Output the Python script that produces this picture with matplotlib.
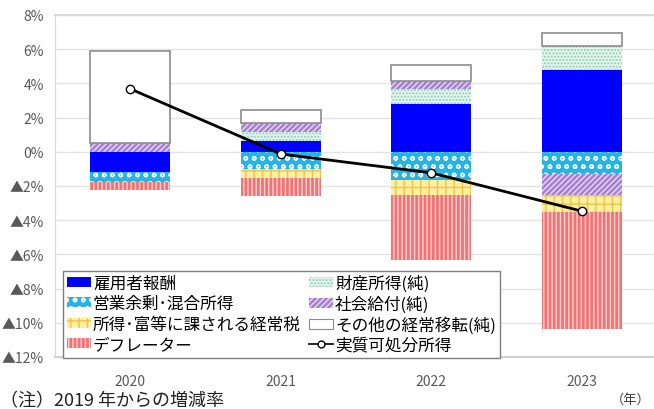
import numpy as np
import matplotlib
matplotlib.use("Agg")
import matplotlib.pyplot as plt
from matplotlib.patches import Patch
from matplotlib.lines import Line2D

plt.rcParams['font.family'] = ['Noto Sans CJK JP', 'DejaVu Sans']
plt.rcParams['hatch.linewidth'] = 1.0

# データ（2019年からの増減率、%）
years = ['2020', '2021', '2022', '2023']
koyosha = [-1.19, 0.64, 2.77, 4.78]        # 雇用者報酬
eigyo = [-0.57, -1.02, -1.62, -1.27]       # 営業余剰・混合所得
zaisan = [0.0, 0.50, 0.91, 1.40]           # 財産所得（純）
shakai = [0.51, 0.53, 0.45, -1.23]         # 社会給付（純）
zei = [0.0, -0.54, -0.88, -1.01]           # 所得・富等に課される経常税
deflator = [-0.47, -1.04, -3.83, -6.84]    # デフレーター
sonota = [5.40, 0.80, 0.97, 0.74]          # その他の経常移転（純）
jisshitsu = [3.68, -0.13, -1.23, -3.47]    # 実質可処分所得

yticks = [8, 6, 4, 2, 0, -2, -4, -6, -8, -10, -12]

# 積み上げ順（ゼロに近い方から）
series = [
    ('雇用者報酬', koyosha, dict(facecolor='#0000FF', hatch=None, hc='#0000FF')),
    ('営業余剰･混合所得', eigyo, dict(facecolor='#22B5E6', hatch='oo', hc='white')),
    ('財産所得(純)', zaisan, dict(facecolor='#E6F4EE', hatch='.....', hc='#8CCFB4')),
    ('社会給付(純)', shakai, dict(facecolor='#A57ED8', hatch='//////', hc='#E8DDF7')),
    ('所得･富等に課される経常税', zei, dict(facecolor='#FFF0A0', hatch='++', hc='#EFC34A')),
    ('デフレーター', deflator, dict(facecolor='#F07474', hatch='||||', hc='#FBD0D0')),
    ('その他の経常移転(純)', sonota, dict(facecolor='white', hatch=None, hc='white')),
]

fig = plt.figure(figsize=(6.54, 4.10), dpi=100)
ax = fig.add_axes([55 / 654, 52 / 410, 602 / 654, 342 / 410])

x = np.arange(len(years))
width = 0.53
pos_base = np.zeros(len(years))
neg_base = np.zeros(len(years))
handles = {}
for name, vals, st in series:
    vals = np.array(vals)
    base = np.where(vals >= 0, pos_base, neg_base)
    ax.bar(x, vals, width, bottom=base, color=st['facecolor'],
           hatch=st['hatch'], edgecolor=st['hc'], linewidth=0, zorder=2)
    if name.startswith('その他'):
        ax.bar(x, vals, width, bottom=base, facecolor='none',
               edgecolor='#8c8c8c', linewidth=1.2, zorder=3)
    pos_base = pos_base + np.where(vals >= 0, vals, 0)
    neg_base = neg_base + np.where(vals < 0, vals, 0)
    edge = '#8c8c8c' if name.startswith('その他') else st['hc']
    handles[name] = Patch(facecolor=st['facecolor'], hatch=st['hatch'],
                          edgecolor=edge, linewidth=0.8 if name.startswith('その他') else 0)

ax.plot(x, jisshitsu, color='black', lw=2, marker='o', ms=6,
        mfc='white', mec='black', mew=1, zorder=5)

ax.set_xlim(-0.5, 3.5)
ax.set_ylim(-12, 8)
ax.set_yticks(yticks)
ax.set_yticklabels([f'{v}%' if v >= 0 else f'▲{-v}%' for v in yticks])
ax.set_xticks(x)
ax.set_xticklabels(years)
ax.tick_params(length=0, labelsize=10, labelcolor='#595959', pad=8)
ax.tick_params(axis='x', pad=12)
ax.grid(axis='y', color='#e3e3e3', lw=1, zorder=0)
ax.set_axisbelow(True)
ax.spines['right'].set_visible(False)
ax.spines['top'].set_color('#d9d9d9')
ax.spines['top'].set_linewidth(1.5)
ax.spines['left'].set_color('#d9d9d9')
ax.spines['bottom'].set_color('#d0d0d0')
ax.spines['bottom'].set_linewidth(1.5)

line_handle = Line2D([], [], color='black', lw=1.2, marker='o', ms=5,
                     mfc='white', mec='black')
order = ['雇用者報酬', '営業余剰･混合所得', '所得･富等に課される経常税', 'デフレーター',
         '財産所得(純)', '社会給付(純)', 'その他の経常移転(純)']
h = [handles[n] for n in order] + [line_handle]
labels = order + ['実質可処分所得']
leg = ax.legend(h, labels, ncol=2, loc='lower left',
                bbox_to_anchor=(63 / 654, 51 / 410), bbox_transform=fig.transFigure,
                fontsize=12, frameon=True, fancybox=False, framealpha=1,
                edgecolor='#7f7f7f', handlelength=1.4, handleheight=0.55,
                handletextpad=0.15, columnspacing=0.5, labelspacing=0.2,
                borderpad=0.25, borderaxespad=0)
leg.get_frame().set_linewidth(1.0)
leg.set_zorder(10)

fig.text(0.0, 9 / 410, '（注）2019 年からの増減率', fontsize=13, color='#222222',
         ha='left', va='center')
fig.text(651 / 654, 10 / 410, '（年）', fontsize=9.5, color='#404040',
         ha='right', va='center')

fig.savefig('out.png', dpi=100)
